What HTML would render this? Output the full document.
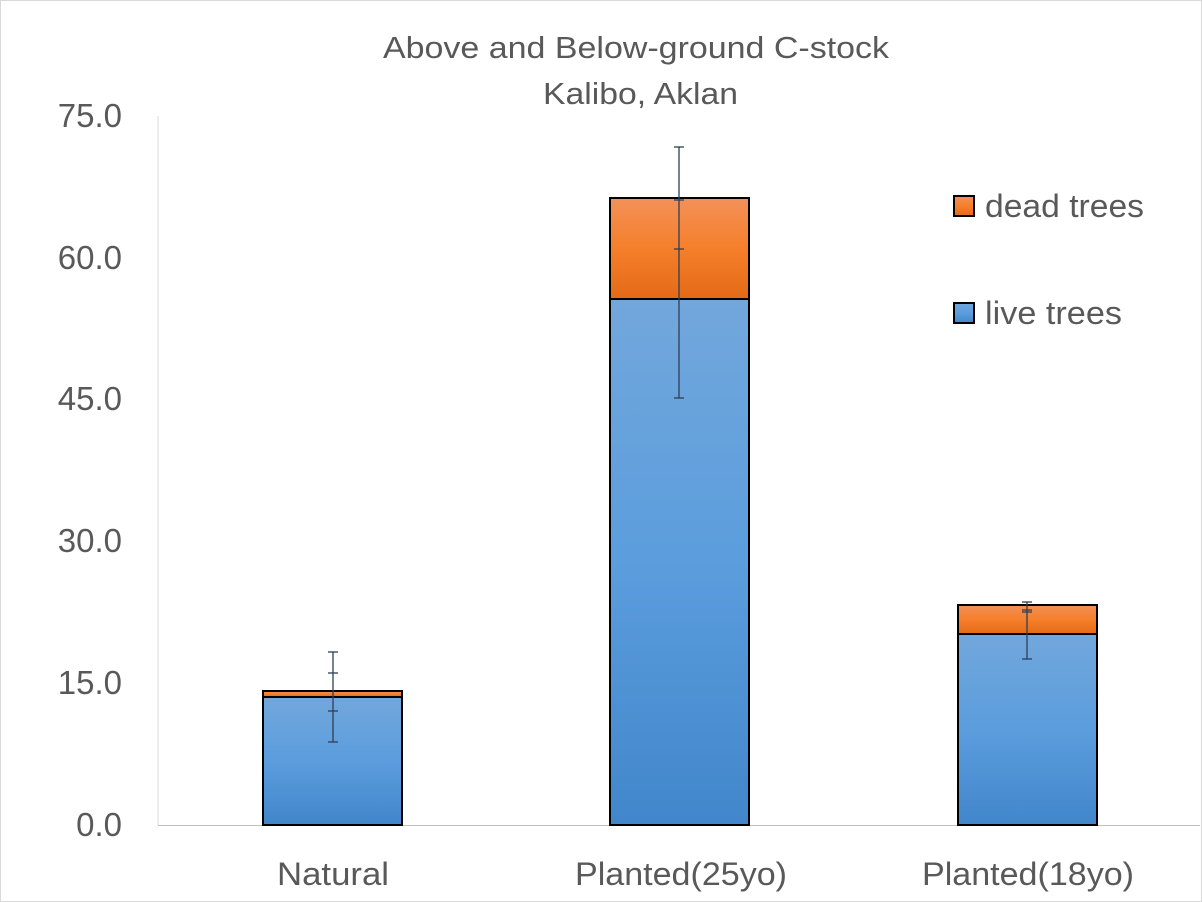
<!DOCTYPE html>
<html><head><meta charset="utf-8"><style>
html,body{margin:0;padding:0;background:#fff}
svg{display:block}
text{font-family:"Liberation Sans",sans-serif;fill:#595959}
</style></head><body>
<svg width="1202" height="902" viewBox="0 0 1202 902">
<defs>
<linearGradient id="b" x1="0" y1="0" x2="0" y2="1"><stop offset="0" stop-color="#72a7dc"/><stop offset="0.5" stop-color="#5b9ddd"/><stop offset="1" stop-color="#4286cb"/></linearGradient>
<linearGradient id="o" x1="0" y1="0" x2="0" y2="1"><stop offset="0" stop-color="#f3915a"/><stop offset="0.5" stop-color="#f57f2a"/><stop offset="1" stop-color="#e46a16"/></linearGradient>
</defs>
<rect x="0.5" y="0.5" width="1201" height="901" fill="#fff" stroke="#d9d9d9"/>
<text x="383" y="58" font-size="31" textLength="506" lengthAdjust="spacingAndGlyphs">Above and Below-ground C-stock</text>
<text x="543" y="104" font-size="31" textLength="195" lengthAdjust="spacingAndGlyphs">Kalibo, Aklan</text>
<g font-size="33" text-anchor="end">
<text x="122" y="836">0.0</text><text x="122" y="694">15.0</text><text x="122" y="552">30.0</text><text x="122" y="410">45.0</text><text x="122" y="269">60.0</text><text x="122" y="127">75.0</text>
</g>
<line x1="158" y1="116" x2="158" y2="825" stroke="#d9d9d9"/>
<line x1="158" y1="825.5" x2="1200" y2="825.5" stroke="#bfbfbf"/>
<g stroke="#000" stroke-width="2">
<rect x="263" y="697" width="139" height="128" fill="url(#b)"/>
<rect x="263" y="691" width="139" height="6" fill="url(#o)"/>
<rect x="610" y="299" width="139" height="526" fill="url(#b)"/>
<rect x="610" y="198" width="139" height="101" fill="url(#o)"/>
<rect x="958" y="634" width="139" height="191" fill="url(#b)"/>
<rect x="958" y="605" width="139" height="29" fill="url(#o)"/>
</g>
<g stroke="#2e3f55" stroke-width="1.3">
<line x1="333" y1="652" x2="333" y2="742"/><line x1="328" y1="652" x2="338" y2="652"/><line x1="328" y1="673" x2="338" y2="673"/><line x1="328" y1="711" x2="338" y2="711"/><line x1="328" y1="742" x2="338" y2="742"/>
<line x1="679" y1="147" x2="679" y2="398"/><line x1="674" y1="147" x2="684" y2="147"/><line x1="674" y1="200" x2="684" y2="200"/><line x1="674" y1="249" x2="684" y2="249"/><line x1="674" y1="398" x2="684" y2="398"/>
<line x1="1027" y1="602" x2="1027" y2="659"/><line x1="1022" y1="602" x2="1032" y2="602"/><line x1="1022" y1="610" x2="1032" y2="610"/><line x1="1022" y1="612" x2="1032" y2="612"/><line x1="1022" y1="659" x2="1032" y2="659"/>
</g>
<g font-size="32">
<text x="277" y="885" textLength="112" lengthAdjust="spacingAndGlyphs">Natural</text>
<text x="575" y="885" textLength="212" lengthAdjust="spacingAndGlyphs">Planted(25yo)</text>
<text x="922" y="885" textLength="212" lengthAdjust="spacingAndGlyphs">Planted(18yo)</text>
</g>
<rect x="954" y="196" width="20" height="20" fill="url(#o)" stroke="#000" stroke-width="2"/>
<rect x="954" y="303" width="20" height="20" fill="url(#b)" stroke="#000" stroke-width="2"/>
<text x="985" y="217" font-size="32" textLength="159" lengthAdjust="spacingAndGlyphs">dead trees</text>
<text x="985" y="324" font-size="32" textLength="137" lengthAdjust="spacingAndGlyphs">live trees</text>
</svg>
</body></html>
